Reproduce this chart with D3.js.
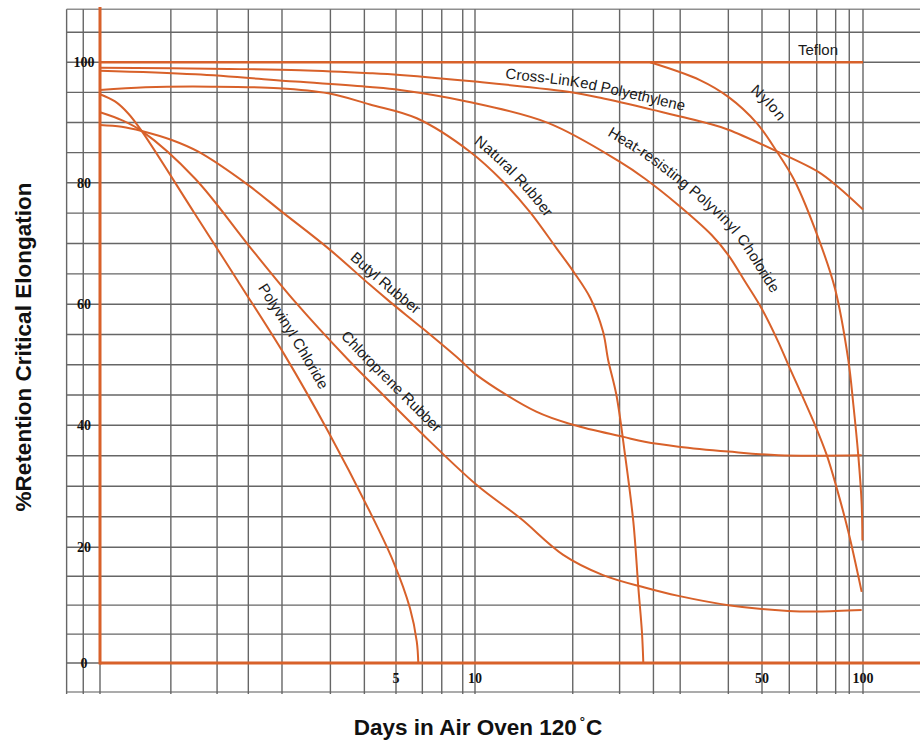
<!DOCTYPE html>
<html>
<head>
<meta charset="utf-8">
<script src="https://cdn.jsdelivr.net/npm/d3@7"></script>
<style>
  body { margin: 0; background: #fff; }
  svg { display: block; }
</style>
</head>
<body>
<svg id="chart" width="920" height="742"></svg>
<script>
// % retention of critical elongation vs days in a 120 C air oven
// each series is [days, percent]
var teflon = [[1, 100], [100, 100]];
var crossLinkedPE = [[1, 99.1], [2.01, 98.9], [2.97, 98.7], [4.34, 98.2], [5.18, 97.9], [10, 96.8], [17.3, 95.0], [20.2, 94.1], [27.1, 92.1], [36.7, 89.9], [41.4, 88.8], [55.4, 85.2], [73.6, 81.8], [84.3, 79.3], [100, 75.6]];
var nylon = [[26.7, 100], [35.3, 97.05], [41.4, 94.25], [48.55, 89.9], [55.4, 85.15], [62.7, 80.2], [73.6, 70.9], [82.5, 62.6], [90.4, 50.8], [93.6, 43.4], [96.8, 35.1], [99.1, 27.1], [99.6, 21.1]];
var heatResistingPVC = [[1, 98.6], [1.68, 98.0], [2.89, 96.8], [4.34, 95.9], [5.18, 95.4], [9.3, 93.5], [15.1, 89.9], [22.5, 83.5], [25.9, 80.7], [31.3, 76.3], [37.7, 71.4], [41.4, 68.1], [45.5, 63.7], [49.9, 59.3], [55.9, 53.8], [59.9, 50.0], [72.0, 40.0], [78.0, 35.1], [83.5, 29.7], [90.4, 22.6], [99.1, 12.3]];
var naturalRubber = [[1, 95.4], [1.28, 95.85], [1.83, 95.95], [2.64, 95.7], [3.46, 94.85], [4.34, 93.0], [6.0, 90.7], [9.57, 85.15], [11.7, 80.2], [13.6, 75.2], [15.8, 69.2], [17.4, 65.3], [19.1, 61.0], [20.5, 55.5], [21.1, 50.8], [22.1, 45.0], [23.2, 35.1], [24.3, 24.2], [25.0, 12.9], [25.5, 5.4], [25.7, 0]];
var butylRubber = [[1, 89.6], [1.125, 89.3], [1.254, 88.6], [1.477, 87.1], [1.707, 85.15], [2.24, 79.6], [2.69, 75.2], [3.46, 69.2], [4.34, 63.2], [4.84, 60.4], [6.36, 55.9], [8.77, 50.8], [10.1, 48.3], [14.1, 42.25], [17.4, 40.05], [23.0, 38.1], [25.9, 37.3], [31.3, 36.5], [41.4, 35.7], [55.9, 35.1], [99.1, 35.1]];
var chloropreneRubber = [[1, 91.7], [1.125, 90.4], [1.254, 88.6], [1.676, 80.7], [2.24, 69.75], [2.89, 60.4], [3.86, 50.8], [4.34, 47.2], [6.17, 38.95], [10.1, 30.2], [12.9, 24.75], [16.4, 18.7], [20.5, 15.2], [25.9, 13.05], [31.3, 11.6], [41.4, 10.0], [59.9, 9.0], [73.6, 8.9], [99.1, 9.15]];
var polyvinylChloride = [[1, 94.7], [1.085, 93.5], [1.166, 91.5], [1.254, 88.6], [1.676, 74.85], [2.14, 63.3], [2.73, 51.6], [3.46, 38.95], [4.34, 25.8], [4.93, 17.5], [5.65, 9.5], [6.0, 3.7], [6.08, 0]];

var names = ["Teflon", "Cross-LinKed Polyethylene", "Nylon", "Heat-resisting Polyvinyl Choloride",
  "Natural Rubber", "Butyl Rubber", "Chloroprene Rubber", "Polyvinyl Chloride"];
var values = [teflon, crossLinkedPE, nylon, heatResistingPVC,
  naturalRubber, butylRubber, chloropreneRubber, polyvinylChloride];

// tick labels and the (hand ruled) grid lines
var xTicks = [5, 10, 50, 100];
var yTicks = [0, 20, 40, 60, 80, 100];
var xGrid = [0.834, 0.913, 1, 1.47, 1.89, 2.24, 2.69, 3.5, 4.21, 5, 6.3, 7.47, 8.98, 10,
  17.3, 22.5, 27.2, 31.6, 41.4, 50, 60.3, 72.8, 82.9, 91, 100];
var yGrid = [-5, 0, 5, 10, 15, 20, 25, 30, 35, 40, 45, 50, 55, 60, 65, 70, 75, 80, 85, 90, 95, 100, 105];
var frameTop = 108.8;

// where each name sits along its curve (days) and how far off the line
var labelPos = {
  "Teflon": { at: 64, off: 7 },
  "Cross-LinKed Polyethylene": { at: 11.8, off: 6 },
  "Nylon": { at: 43.7, off: 18 },
  "Heat-resisting Polyvinyl Choloride": { at: 20.0, off: 16 },
  "Natural Rubber": { at: 9.4, off: 9 },
  "Butyl Rubber": { at: 3.8, off: 6 },
  "Chloroprene Rubber": { at: 3.55, off: 10 },
  "Polyvinyl Chloride": { at: 2.22, off: 13 }
};

var width = 920, height = 742;
var orange = "#d8612a";
var svg = d3.select("#chart");

// the printed axis is not evenly spaced, so the scales are pinned at each label
var x = d3.scaleLog().domain([1, 5, 10, 50, 100]).range([100, 396, 475, 762, 863]);
var y = d3.scaleLinear().domain([0, 20, 40, 60, 80, 100]).range([663, 547.3, 425.3, 304.3, 182.7, 62.3]);

// grid
var grid = svg.append("g");
grid.selectAll(".hgrid")
  .data(yGrid)
  .enter()
  .append("line")
  .attr("x1", x(xGrid[0]))
  .attr("x2", width)
  .attr("y1", d => y(d))
  .attr("y2", d => y(d))
  .attr("stroke", d => d === -5 ? "#8f8f8f" : "#666")
  .attr("stroke-width", 1.4);

grid.append("line")
  .attr("x1", x(xGrid[0])).attr("x2", width)
  .attr("y1", y(frameTop)).attr("y2", y(frameTop))
  .attr("stroke", "#8f8f8f").attr("stroke-width", 1.4);

grid.selectAll(".vgrid")
  .data(xGrid)
  .enter()
  .append("line")
  .attr("x1", d => x(d))
  .attr("x2", d => x(d))
  .attr("y1", y(frameTop))
  .attr("y2", y(-5) + 2)
  .attr("stroke", "#666")
  .attr("stroke-width", 1.4);

// tick labels
svg.selectAll(".ylab")
  .data(yTicks)
  .enter()
  .append("text")
  .attr("x", 84)
  .attr("y", d => y(d) + 5)
  .attr("text-anchor", "middle")
  .style("font", "bold 14px 'Liberation Serif', 'Times New Roman', serif")
  .style("fill", "#111")
  .text(d => d);

svg.selectAll(".xlab")
  .data(xTicks)
  .enter()
  .append("text")
  .attr("x", d => x(d))
  .attr("y", 682.5)
  .attr("text-anchor", "middle")
  .style("font", "bold 14px 'Liberation Serif', 'Times New Roman', serif")
  .style("fill", "#111")
  .text(d => d);

// orange axes
svg.append("line")
  .attr("x1", x(1)).attr("x2", x(1))
  .attr("y1", 7).attr("y2", y(0) + 1.5)
  .attr("stroke", orange).attr("stroke-width", 3);
svg.append("line")
  .attr("x1", x(1)).attr("x2", width)
  .attr("y1", y(0)).attr("y2", y(0))
  .attr("stroke", orange).attr("stroke-width", 3);

// curves
var line = d3.line()
  .x(d => x(d[0]))
  .y(d => y(d[1]))
  .curve(d3.curveCatmullRom.alpha(0.5));

var paths = svg.selectAll(".curve")
  .data(values)
  .enter()
  .append("path")
  .attr("id", (d, i) => "curve-" + i)
  .attr("d", line)
  .attr("fill", "none")
  .attr("stroke", orange)
  .attr("stroke-width", (d, i) => i === 0 ? 2.5 : 2);

// find how far along a path a given x lies (x grows along every curve)
function lengthAtX(node, px) {
  var lo = 0, hi = node.getTotalLength();
  for (var k = 0; k < 30; k++) {
    var mid = (lo + hi) / 2;
    if (node.getPointAtLength(mid).x < px) lo = mid; else hi = mid;
  }
  return lo;
}

// curve names follow their lines
paths.each(function(d, i) {
  var p = labelPos[names[i]];
  svg.append("text")
    .attr("dy", -p.off)
    .style("font", "15px 'Liberation Sans', Arial, Helvetica, sans-serif")
    .style("fill", "#1a1a1a")
    .append("textPath")
    .attr("href", "#curve-" + i)
    .attr("startOffset", lengthAtX(this, x(p.at)))
    .text(names[i]);
});

// axis titles
var xTitle = svg.append("text")
  .attr("x", 478)
  .attr("y", 735)
  .attr("text-anchor", "middle")
  .style("font", "bold 22.5px 'Liberation Sans', Arial, Helvetica, sans-serif")
  .style("fill", "#111");
xTitle.append("tspan").text("Days in Air Oven 120");
xTitle.append("tspan").attr("dx", 3).attr("dy", -9).style("font-size", "13px").text("°");
xTitle.append("tspan").attr("dx", 1).attr("dy", 9).text("C");

svg.append("text")
  .attr("transform", "translate(31,347) rotate(-90)")
  .attr("text-anchor", "middle")
  .style("font", "bold 22.5px 'Liberation Sans', Arial, Helvetica, sans-serif")
  .style("fill", "#111")
  .text("%Retention Critical Elongation");
</script>
</body>
</html>
